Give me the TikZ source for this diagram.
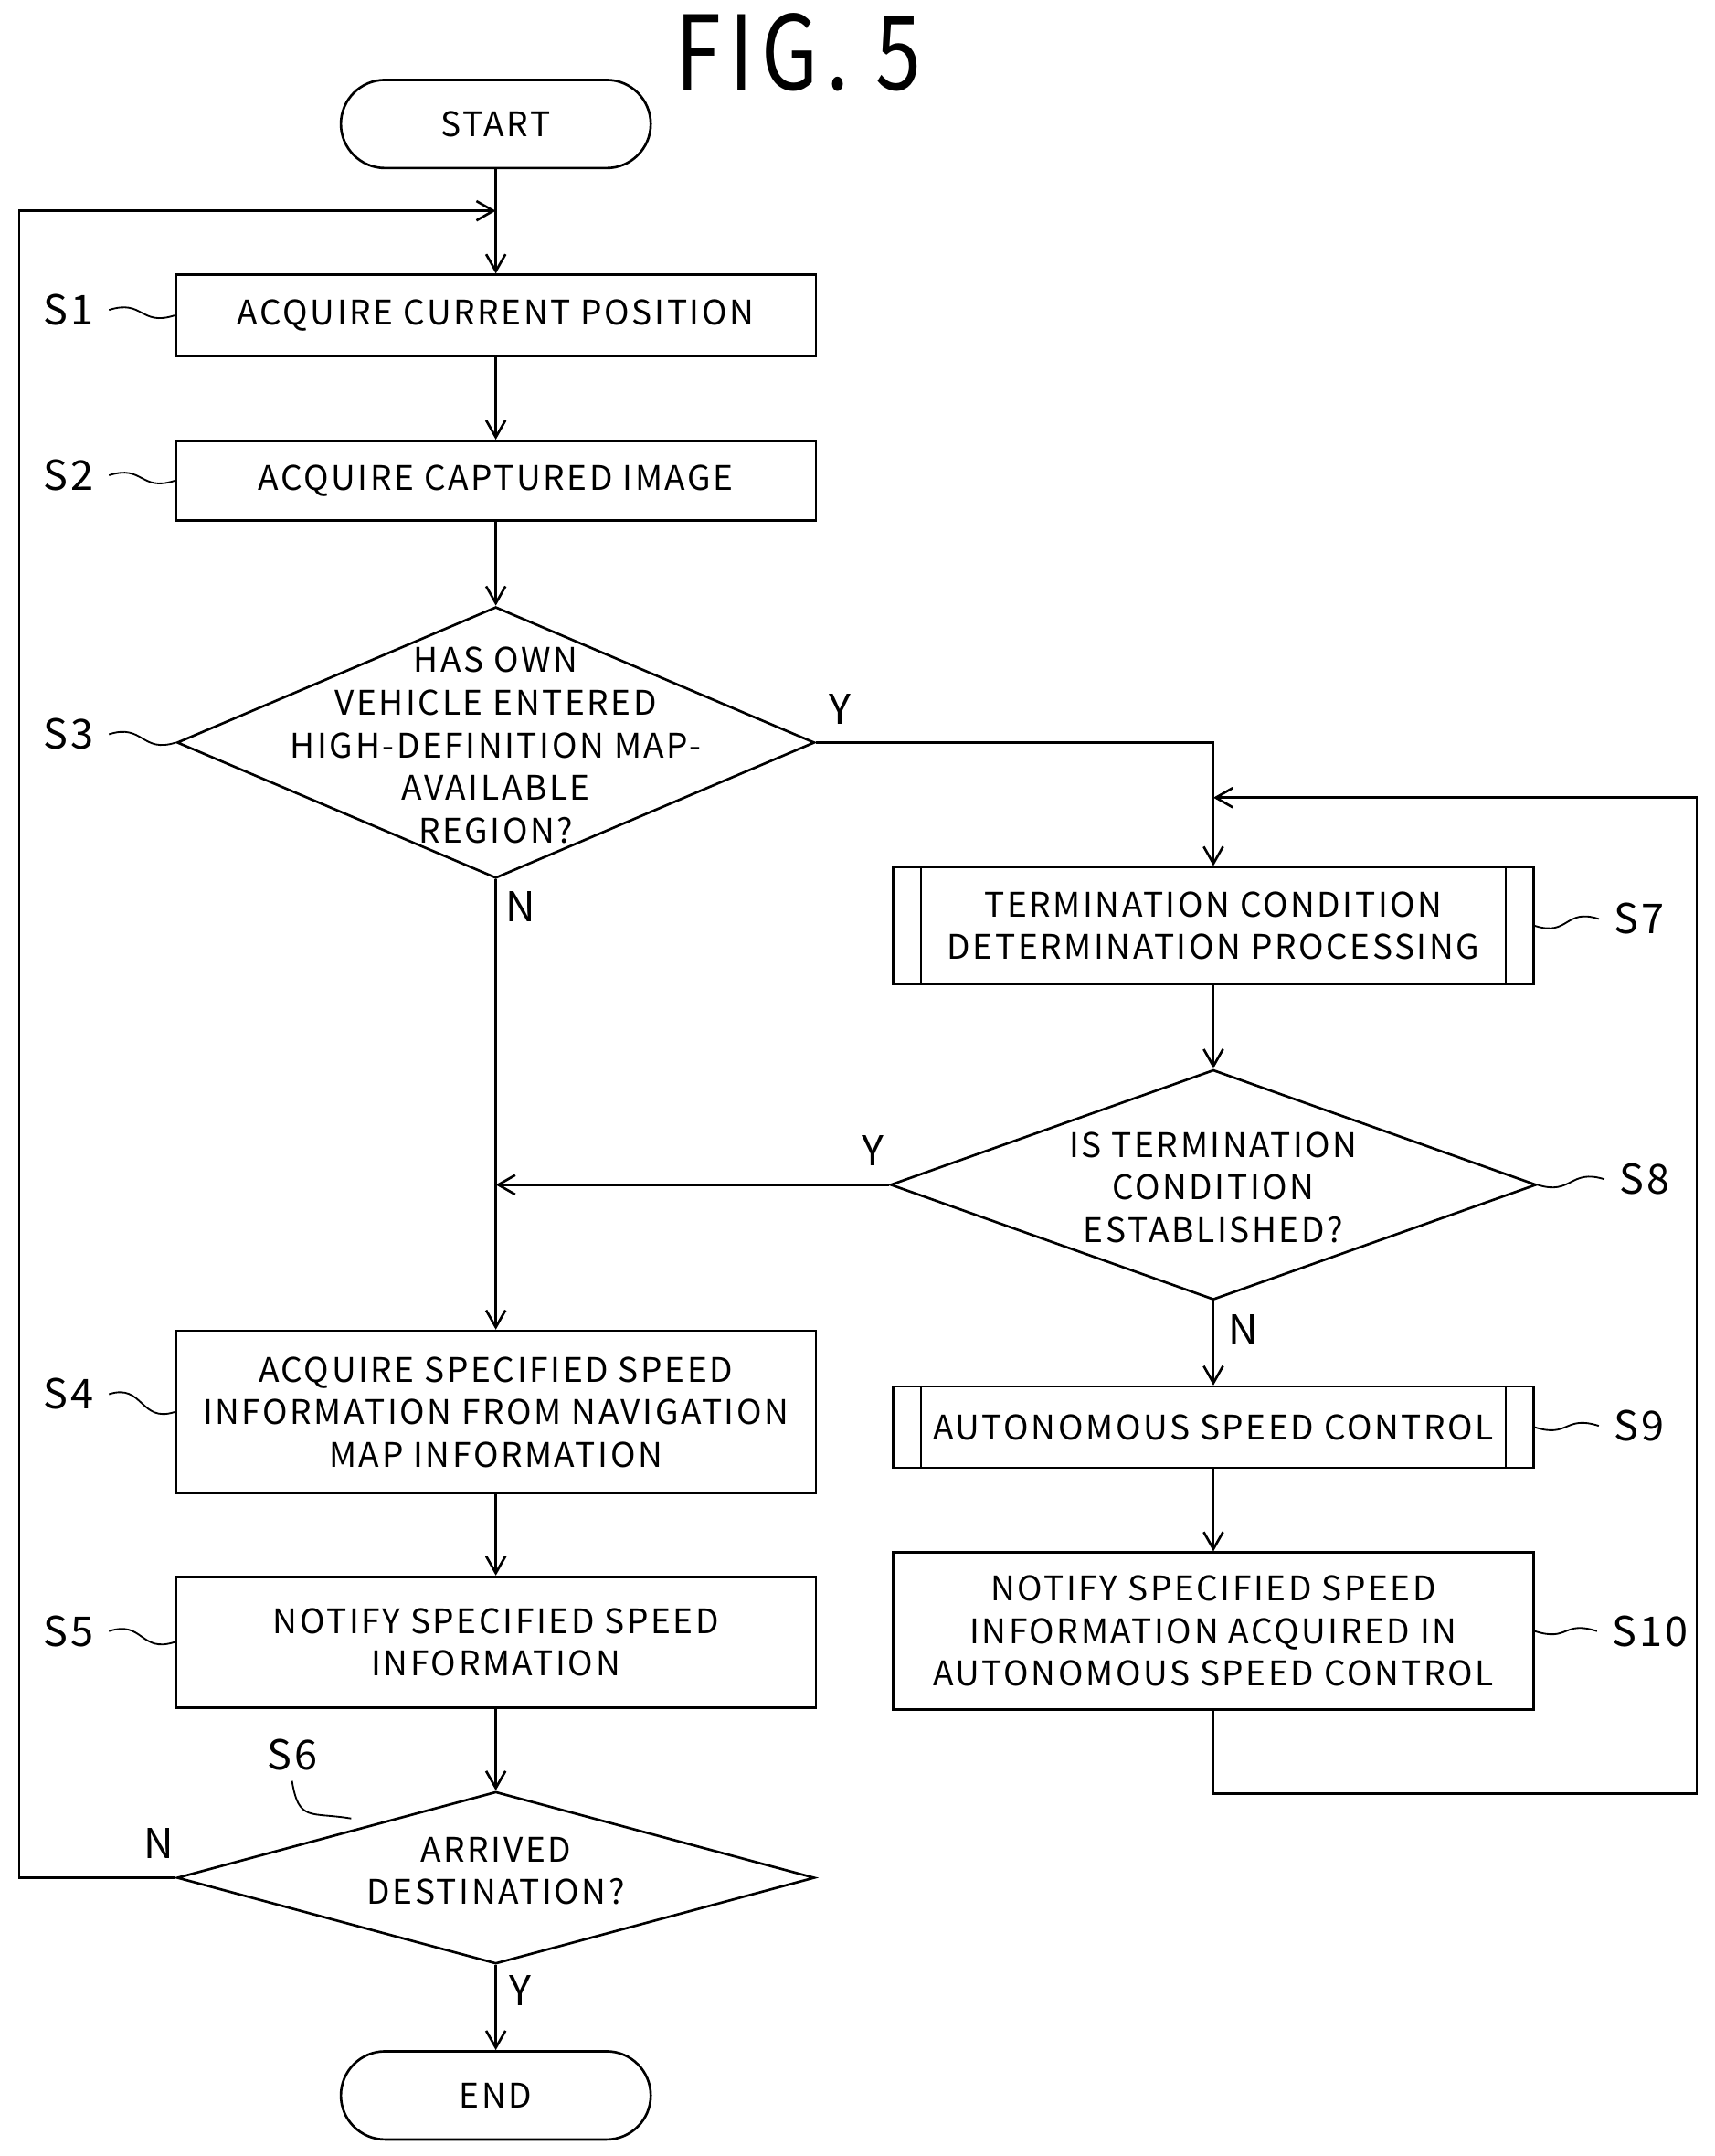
\documentclass[tikz,border=0pt]{standalone}
\usepackage{fontspec}
\setmainfont{Noto Sans CJK JP}[LetterSpace=7]
\newfontfamily\titlefont{Noto Sans CJK JP}[LetterSpace=10]
\usetikzlibrary{shapes.geometric,arrows.meta}
\begin{document}
\begin{tikzpicture}[x=0.02cm,y=-0.02cm,
  every node/.style={font=\fontsize{14pt}{17.6pt}\selectfont},
  line/.style={draw, line width=1pt},
  arr/.style={line, -{Straight Barb[length=7pt,width=8pt]}},
  box/.style={draw, line width=1pt, minimum width=9.3cm, align=center, inner sep=0pt},
  term/.style={draw, line width=1pt, rounded corners=0.64cm, minimum width=4.5cm, minimum height=1.28cm},
  dia/.style={draw, line width=1pt, diamond, inner sep=0pt},
  lab/.style={font=\fontsize{17pt}{20pt}\selectfont, inner sep=1pt},
  yn/.style={font=\fontsize{17pt}{20pt}\selectfont},
  wave/.style={line width=0.7pt}]
\useasboundingbox (0,0) rectangle (1245,1565);
\node[font=\titlefont\fontsize{34pt}{40pt}\selectfont, yscale=1.25] (title) at (580,38) {FIG. 5};
\node[term] (start) at (360,90) {START};
\node[box, minimum height=1.18cm] (s1) at (360,229) {ACQUIRE CURRENT POSITION};
\node[box, minimum height=1.16cm] (s2) at (360,349) {ACQUIRE CAPTURED IMAGE};
\node[dia, minimum width=9.26cm, minimum height=3.94cm] (s3) at (360,539) {};
\node[align=center] (s3t) at (360,541) {HAS OWN\\VEHICLE ENTERED\\HIGH-DEFINITION MAP-\\AVAILABLE\\REGION?};
\node[box, minimum height=2.36cm] (s4) at (360,1025) {ACQUIRE SPECIFIED SPEED\\INFORMATION FROM NAVIGATION\\MAP INFORMATION};
\node[box, minimum height=1.9cm] (s5) at (360,1192) {NOTIFY SPECIFIED SPEED\\INFORMATION};
\node[dia, minimum width=9.26cm, minimum height=2.5cm] (s6) at (360,1363) {};
\node[align=center] (s6t) at (360,1358) {ARRIVED\\DESTINATION?};
\node[term] (end) at (360,1521) {END};
\node[box, minimum height=1.7cm] (s7) at (881,672) {TERMINATION CONDITION\\DETERMINATION PROCESSING};
\draw[line width=1pt] ([xshift=0.42cm]s7.north west) -- ([xshift=0.42cm]s7.south west)
  ([xshift=-0.42cm]s7.north east) -- ([xshift=-0.42cm]s7.south east);
\node[dia, minimum width=9.38cm, minimum height=3.34cm] (s8) at (881,860) {};
\node[align=center] (s8t) at (881,862) {IS TERMINATION\\CONDITION\\ESTABLISHED?};
\node[box, minimum height=1.18cm] (s9) at (881,1036) {AUTONOMOUS SPEED CONTROL};
\draw[line width=1pt] ([xshift=0.42cm]s9.north west) -- ([xshift=0.42cm]s9.south west)
  ([xshift=-0.42cm]s9.north east) -- ([xshift=-0.42cm]s9.south east);
\node[box, minimum height=2.28cm] (s10) at (881,1184) {NOTIFY SPECIFIED SPEED\\INFORMATION ACQUIRED IN\\AUTONOMOUS SPEED CONTROL};
% step labels
\node[lab] (l1) at (50,225) {S1};
\node[lab] (l2) at (50,345) {S2};
\node[lab] (l3) at (50,533) {S3};
\node[lab] (l4) at (50,1012) {S4};
\node[lab] (l5) at (50,1184) {S5};
\node[lab] (l6) at (212,1274) {S6};
\node[lab] (l7) at (1190,667) {S7};
\node[lab] (l8) at (1194,856) {S8};
\node[lab] (l9) at (1190,1035) {S9};
\node[lab] (l10) at (1198,1184) {S10};
\foreach \l/\b in {l1/s1,l2/s2,l4/s4,l5/s5}
  \draw[wave] ([xshift=5pt]\l.east) .. controls +(25,-8) and +(-25,8) .. (\b.west);
\draw[wave] ([xshift=5pt]l3.east) .. controls +(25,-8) and +(-25,8) .. (s3.west);
\draw[wave] ([xshift=-5pt]l7.west) .. controls +(-25,-8) and +(25,8) .. (s7.east);
\draw[wave] ([xshift=-5pt]l8.west) .. controls +(-25,-8) and +(25,8) .. (s8.east);
\draw[wave] ([xshift=-5pt]l9.west) .. controls +(-25,-8) and +(25,8) .. (s9.east);
\draw[wave] ([xshift=-5pt]l10.west) .. controls +(-25,-8) and +(25,8) .. (s10.east);
\coordinate (s6e) at (255,1320);
\draw[wave] ([yshift=-3pt]l6.south) .. controls +(5,30) and +(-30,-5) .. (s6e);
% Y/N
\node[yn] (y3) at (610,515) {Y};
\node[yn] (n3) at (378,658) {N};
\node[yn] (y8) at (634,835) {Y};
\node[yn] (n8) at (903,965) {N};
\node[yn] (n6) at (115,1338) {N};
\node[yn] (y6) at (378,1445) {Y};
% connectors
\coordinate (loopin) at (360,153);
\coordinate (loopr) at (881,579);
\coordinate (join) at (360,860);
\draw[arr] (start) -- (s1);
\draw[arr] (s1) -- (s2);
\draw[arr] (s2) -- (s3.north);
\draw[arr] (s3.south) -- (s4);
\draw[arr] (s4) -- (s5);
\draw[arr] (s5) -- (s6.north);
\draw[arr] (s6.south) -- (end);
\draw[arr] (s6.west) -| (14,153) -- (loopin);
\draw[arr] (s3.east) -| (s7.north);
\draw[arr] (s7) -- (s8.north);
\draw[arr] (s8.west) -- (join);
\draw[arr] (s8.south) -- (s9);
\draw[arr] (s9) -- (s10);
\draw[arr] (s10.south) -- (881,1302) -| (1232,579) -- (loopr);
\end{tikzpicture}
\end{document}
